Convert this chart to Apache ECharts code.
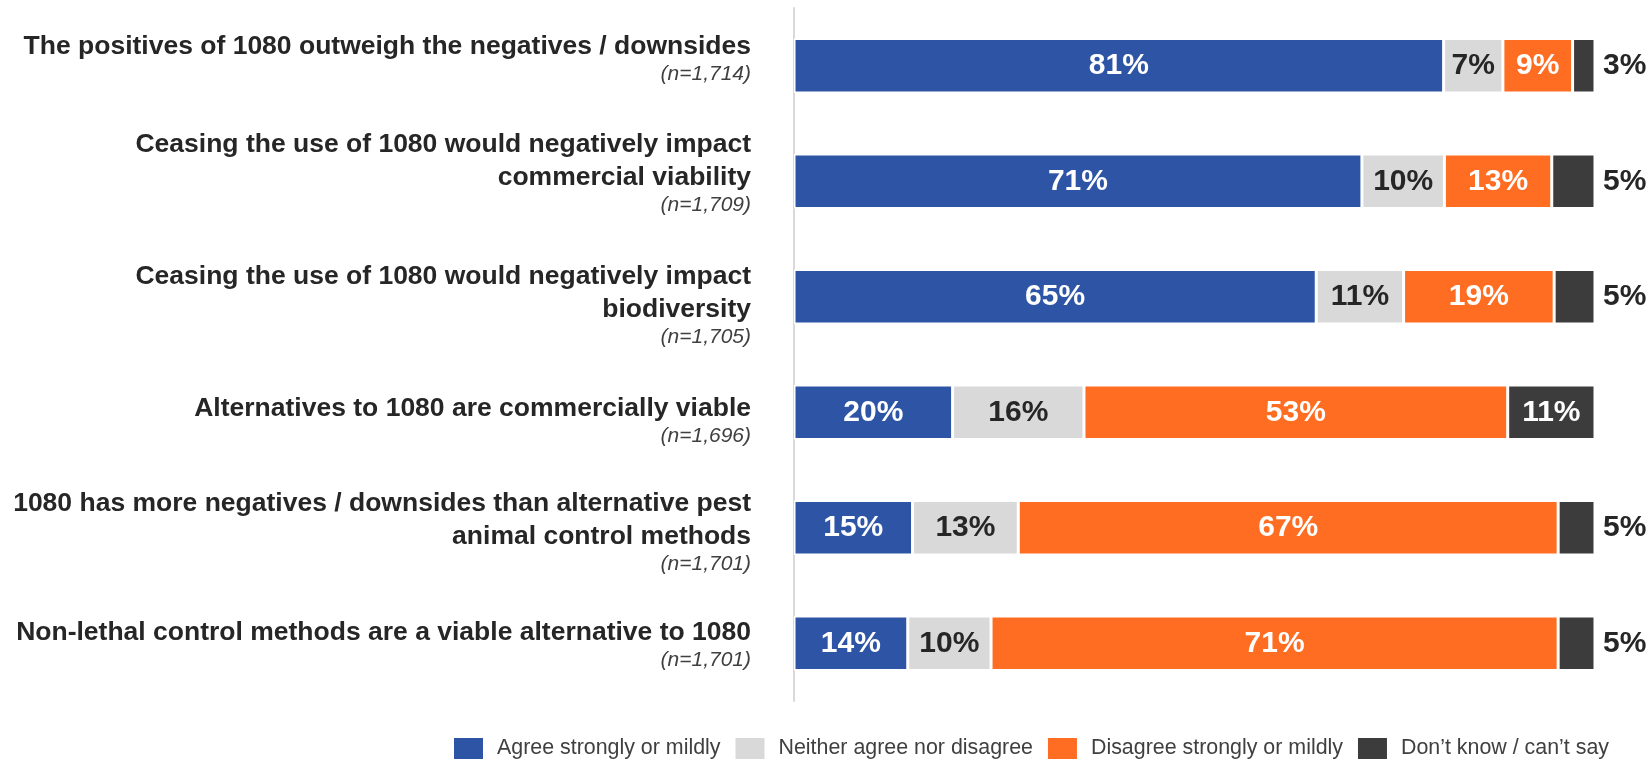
<!DOCTYPE html>
<html>
<head>
<meta charset="utf-8">
<script src="https://cdn.jsdelivr.net/npm/echarts@6/dist/echarts.min.js"></script>
<style>
html,body{margin:0;padding:0;background:#fff;}
#chart{width:1650px;height:761px;}
</style>
</head>
<body>
<div id="chart"></div>
<script>
// Statement titles (line breaks as in the reference) and sample sizes
const statements = [
  "The positives of 1080 outweigh the negatives / downsides",
  "Ceasing the use of 1080 would negatively impact\ncommercial viability",
  "Ceasing the use of 1080 would negatively impact\nbiodiversity",
  "Alternatives to 1080 are commercially viable",
  "1080 has more negatives / downsides than alternative pest\nanimal control methods",
  "Non-lethal control methods are a viable alternative to 1080"
];
const sampleSizes = ["1,714", "1,709", "1,705", "1,696", "1,701", "1,701"];

const seriesNames = ["Agree strongly or mildly", "Neither agree nor disagree", "Disagree strongly or mildly", "Don\u2019t know / can\u2019t say"];

// Percentages per response (labels show rounded values)
const agree    = [81.1, 70.9, 65.2, 19.8, 14.8, 14.2];
const neither  = [7.4, 10.3, 10.9, 16.4, 13.2, 10.4];
const disagree = [8.7, 13.4, 18.8, 52.9, 67.4, 70.8];
const dontKnow = [2.8, 5.4, 5.1, 10.9, 4.6, 4.6];

// Layout only: vertical nudge (px, + = down) of each statement label block
const labelNudge = [-8, -9, 7, 7, 3, 0];

const colors = ["#2E55A5", "#D9D9D9", "#FF6D22", "#3C3C3C"];
const labelColors = ["#FFFFFF", "#262626", "#FFFFFF", "#FFFFFF"];
const FONT = 'Liberation Sans, Arial, sans-serif';

const chart = echarts.init(document.getElementById('chart'));

function makeSeries(idx, values) {
  return {
    name: seriesNames[idx],
    type: 'bar',
    stack: 'total',
    barWidth: '47%',
    itemStyle: { color: colors[idx], borderColor: '#ffffff', borderWidth: 1.5 },
    label: {
      show: true,
      position: 'inside',
      color: labelColors[idx],
      fontFamily: FONT,
      fontWeight: 'bold',
      fontSize: 30,
      formatter: p => Math.round(p.value) + '%'
    },
    data: values.map(v => {
      if (idx === 3 && v < 8) {
        return { value: v, label: { position: 'right', distance: 8, color: '#262626' } };
      }
      return v;
    })
  };
}

const categoryData = statements.map((s, i) => {
  const d = labelNudge[i];
  return {
    value: s,
    textStyle: { padding: d >= 0 ? [2 * d, 0, 0, 0] : [0, 0, -2 * d, 0] }
  };
});

const option = {
  animation: false,
  backgroundColor: '#ffffff',
  grid: { left: 794, right: 55, top: 8, bottom: 60, containLabel: false },
  xAxis: { type: 'value', min: 0, max: 100, show: false },
  yAxis: {
    type: 'category',
    inverse: true,
    data: categoryData,
    axisLine: { show: true, lineStyle: { color: '#D9D9D9', width: 2 } },
    axisTick: { show: false },
    axisLabel: {
      margin: 43,
      align: 'right',
      formatter: (val, i) => {
        const lines = val.split('\n').map(l => '{t|' + l + '}');
        lines.push('{n|(n=' + sampleSizes[i] + ')}');
        return lines.join('\n');
      },
      rich: {
        t: { fontFamily: FONT, fontWeight: 'bold', fontSize: 26.5, color: '#262626', lineHeight: 33, align: 'right' },
        n: { fontFamily: FONT, fontStyle: 'italic', fontSize: 21, color: '#404040', lineHeight: 22, align: 'right' }
      }
    }
  },
  legend: {
    data: seriesNames,
    left: 452,
    top: 736,
    padding: 0,
    icon: 'rect',
    itemWidth: 31,
    itemHeight: 23,
    itemGap: 13,
    textStyle: { fontFamily: FONT, fontSize: 21.4, color: '#404040', padding: [0, 0, 0, 8] }
  },
  series: [
    makeSeries(0, agree),
    makeSeries(1, neither),
    makeSeries(2, disagree),
    makeSeries(3, dontKnow)
  ]
};
chart.setOption(option);
</script>
</body>
</html>
